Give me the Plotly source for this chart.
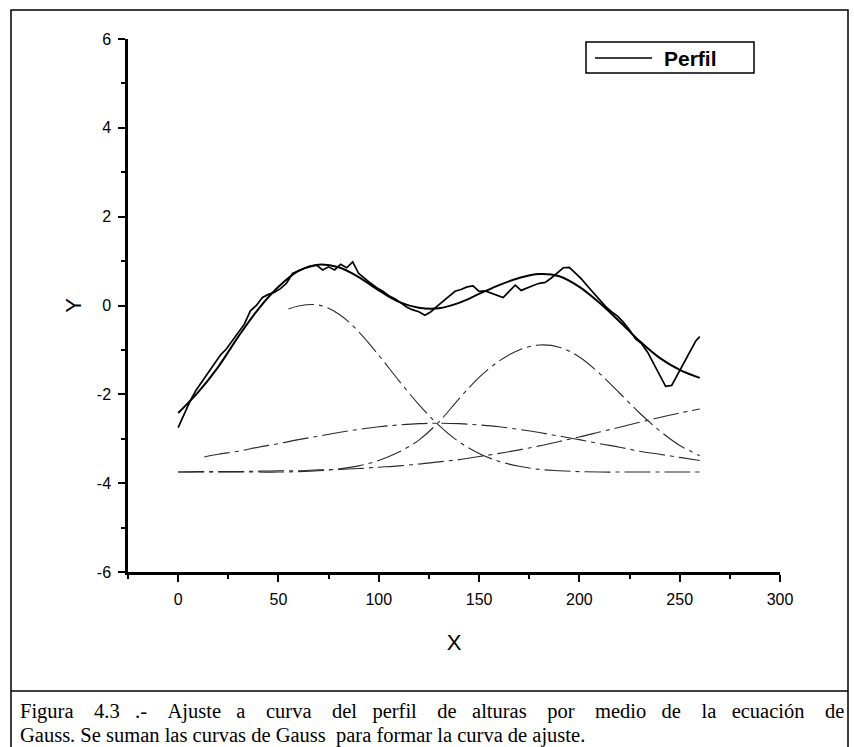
import plotly.graph_objects as go

# ---------------- data ----------------
perfil_x = [0, 3, 6, 9, 12, 15, 18, 21, 24, 27, 30, 33, 36, 39, 42, 45, 48, 51, 54, 57,
            60, 63, 66, 69, 72, 75, 78, 81, 84, 87, 90, 93, 96, 99, 102, 105, 108, 111, 114,
            117, 120, 123, 126, 129, 132, 135, 138, 141, 144, 147, 150, 153, 156, 159, 162,
            165, 168, 171, 174, 177, 180, 183, 186, 189, 192, 195, 198, 201, 204, 207, 210,
            213, 216, 219, 222, 225, 228, 231, 234, 237, 240, 243, 246, 249, 252, 255, 258, 260]
perfil_y = [-2.75, -2.45, -2.15, -1.90, -1.70, -1.50, -1.30, -1.12, -0.98, -0.80, -0.62, -0.42,
            -0.12, 0.00, 0.18, 0.25, 0.30, 0.38, 0.50, 0.72, 0.78, 0.84, 0.88, 0.91, 0.80, 0.87,
            0.80, 0.93, 0.85, 0.98, 0.72, 0.60, 0.50, 0.40, 0.32, 0.22, 0.15, 0.06, -0.04, -0.10,
            -0.14, -0.22, -0.14, -0.02, 0.10, 0.20, 0.32, 0.36, 0.42, 0.44, 0.32, 0.33, 0.28,
            0.24, 0.18, 0.32, 0.46, 0.34, 0.40, 0.45, 0.50, 0.52, 0.62, 0.74, 0.85, 0.86, 0.74,
            0.60, 0.44, 0.28, 0.12, -0.02, -0.14, -0.24, -0.38, -0.55, -0.75, -0.86, -1.05, -1.30,
            -1.55, -1.82, -1.80, -1.55, -1.30, -1.05, -0.80, -0.70]

ajuste_x = [0, 10, 20, 30, 40, 50, 60, 70, 80, 90, 100, 110, 120, 130, 140, 150, 160, 170,
            180, 190, 200, 210, 220, 230, 240, 250, 260]
ajuste_y = [-2.42, -1.95, -1.38, -0.70, -0.08, 0.42, 0.78, 0.92, 0.86, 0.64, 0.34, 0.08,
            -0.05, -0.06, 0.06, 0.26, 0.46, 0.62, 0.71, 0.66, 0.42, 0.06, -0.36, -0.80,
            -1.18, -1.45, -1.63]

gauss1_x = [55, 60, 70, 80, 90, 100, 110, 120, 130, 140, 150, 160, 170, 180, 190, 200,
            210, 220, 230, 240, 250, 260]
gauss1_y = [-0.08, -0.01, 0.01, -0.19, -0.59, -1.12, -1.69, -2.23, -2.70, -3.07, -3.33,
            -3.51, -3.62, -3.69, -3.72, -3.74, -3.75, -3.75, -3.75, -3.75, -3.75, -3.75]

gauss2_x = [0, 10, 20, 30, 40, 50, 60, 70, 80, 90, 100, 110, 120, 130, 140, 150, 160, 170,
            180, 190, 200, 210, 220, 230, 240, 250, 260]
gauss2_y = [-3.75, -3.75, -3.75, -3.75, -3.75, -3.75, -3.74, -3.72, -3.68, -3.61, -3.49,
            -3.30, -3.03, -2.62, -2.10, -1.62, -1.25, -1.00, -0.89, -0.94, -1.16, -1.53,
            -1.97, -2.42, -2.82, -3.15, -3.38]

gauss3_x = [13, 20, 30, 40, 50, 60, 70, 80, 90, 100, 110, 120, 130, 140, 150, 160, 170,
            180, 190, 200, 210, 220, 230, 240, 250, 260]
gauss3_y = [-3.41, -3.35, -3.28, -3.19, -3.11, -3.02, -2.94, -2.86, -2.79, -2.73, -2.69,
            -2.66, -2.65, -2.66, -2.69, -2.73, -2.79, -2.86, -2.94, -3.02, -3.11, -3.19,
            -3.28, -3.35, -3.42, -3.49]

gauss4_x = [0, 10, 20, 30, 40, 50, 60, 70, 80, 90, 100, 110, 120, 130, 140, 150, 160, 170,
            180, 190, 200, 210, 220, 230, 240, 250, 260]
gauss4_y = [-3.75, -3.74, -3.74, -3.74, -3.73, -3.72, -3.72, -3.70, -3.69, -3.67, -3.64,
            -3.61, -3.57, -3.52, -3.47, -3.40, -3.33, -3.25, -3.16, -3.06, -2.96, -2.85,
            -2.74, -2.63, -2.52, -2.42, -2.33]

x_ticks = [0, 50, 100, 150, 200, 250, 300]
y_ticks = [-6, -4, -2, 0, 2, 4, 6]

legend_label = "Perfil"
caption_1_words = ["Figura", "4.3", ".-", "Ajuste", "a", "curva", "del", "perfil", "de",
                   "alturas", "por", "medio", "de", "la", "ecuación", "de"]
caption_2 = "Gauss. Se suman las curvas de Gauss\u00a0 para formar la curva de ajuste."

# ---------------- figure ----------------
W, H = 854, 747
L, R, T, B = 128, 74, 39, 175
pw, ph = W - L - R, H - T - B


def px(xpix):
    return (xpix - L) / pw


def py(ypix):
    return (H - B - ypix) / ph


fig = go.Figure()

comp_style = dict(color="#2a2a2a", width=1.1, dash="26px,5px,4px,5px")
for gx, gy in [(gauss1_x, gauss1_y), (gauss2_x, gauss2_y),
               (gauss3_x, gauss3_y), (gauss4_x, gauss4_y)]:
    fig.add_trace(go.Scatter(x=gx, y=gy, mode="lines", line=dict(**comp_style, shape="spline"),
                             showlegend=False, hoverinfo="skip"))

fig.add_trace(go.Scatter(x=ajuste_x, y=ajuste_y, mode="lines",
                         line=dict(color="black", width=2, shape="spline"),
                         showlegend=False))
fig.add_trace(go.Scatter(x=perfil_x, y=perfil_y, mode="lines", name=legend_label,
                         line=dict(color="black", width=1.7), showlegend=False))

axis_common = dict(showline=True, linecolor="black", linewidth=2.5, ticks="outside",
                   ticklen=7, tickwidth=2, tickcolor="black", showgrid=False, zeroline=False,
                   ticklabelstandoff=4,
                   tickfont=dict(family="Arial, Liberation Sans", size=16, color="black"))

fig.update_xaxes(range=[-25, 300], tickvals=x_ticks, ticktext=[str(v) for v in x_ticks],
                 minor=dict(dtick=25, tick0=0, ticks="outside", ticklen=4, tickwidth=1.5,
                            tickcolor="black"),
                 title=dict(text="X", font=dict(family="Arial, Liberation Sans", size=22,
                                                color="black"), standoff=28),
                 **axis_common)
fig.update_yaxes(range=[-6, 6], tickvals=y_ticks, ticktext=[str(v) for v in y_ticks],
                 minor=dict(dtick=1, tick0=0, ticks="outside", ticklen=4, tickwidth=1.5,
                            tickcolor="black"),
                 title=dict(text="Y", font=dict(family="Arial, Liberation Sans", size=22,
                                                color="black"), standoff=10),
                 **axis_common)

shapes = [
    dict(type="rect", xref="paper", yref="paper",
         x0=px(11), x1=px(848), y0=py(752), y1=py(10),
         line=dict(color="black", width=1.5), fillcolor="rgba(0,0,0,0)", layer="below"),
    dict(type="line", xref="paper", yref="paper",
         x0=px(11), x1=px(848), y0=py(691), y1=py(691),
         line=dict(color="black", width=1.5)),
    # legend box and its line sample
    dict(type="rect", xref="paper", yref="paper",
         x0=px(586), x1=px(754), y0=py(73), y1=py(42),
         line=dict(color="black", width=1.5), fillcolor="white"),
    dict(type="line", xref="paper", yref="paper",
         x0=px(595), x1=px(652), y0=py(58), y1=py(58),
         line=dict(color="black", width=1.5)),
]

# justified first caption line: gaps of 3 or 4 spaces spread evenly
gap3 = " \u00a0\u00a0"
gap4 = " \u00a0\u00a0\u00a0"
line1 = caption_1_words[0]
for i, w in enumerate(caption_1_words[1:]):
    line1 += (gap4 if i % 5 in (0, 2, 4) else gap3) + w

cap_font = dict(family="Liberation Serif, Times New Roman", size=20.5, color="black")
annotations = [
    dict(text=legend_label, xref="paper", yref="paper", x=px(662), y=py(58),
         xanchor="left", yanchor="middle", showarrow=False,
         font=dict(family="Arial, Liberation Sans", size=21, color="black", weight="bold")),
    dict(text=line1, xref="paper", yref="paper",
         x=px(18), y=py(711), xanchor="left", yanchor="middle", showarrow=False,
         font=cap_font),
    dict(text=caption_2, xref="paper", yref="paper", x=px(18), y=py(735),
         xanchor="left", yanchor="middle", showarrow=False, font=cap_font),
]

fig.update_layout(
    width=W, height=H,
    margin=dict(l=L, r=R, t=T, b=B, autoexpand=False),
    paper_bgcolor="white", plot_bgcolor="white",
    showlegend=False,
    shapes=shapes,
    annotations=annotations,
)

fig.write_html("out.html", config={"displayModeBar": False},
               post_script="document.body.style.margin='0px';"
                           "document.body.style.overflow='hidden';")
